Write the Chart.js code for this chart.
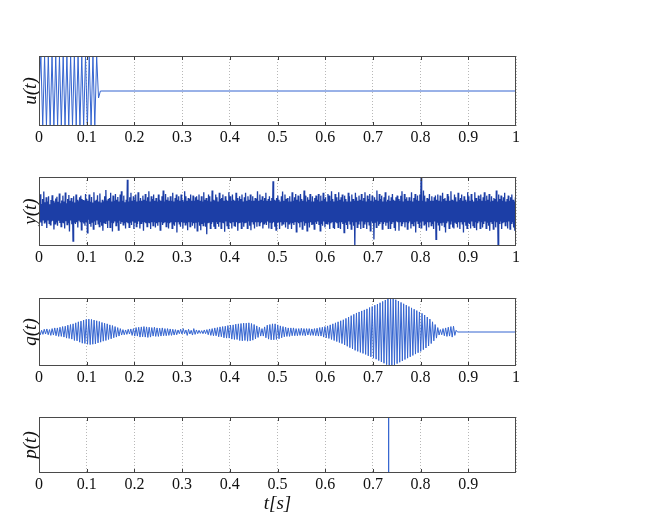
<!DOCTYPE html>
<html>
<head>
<meta charset="utf-8">
<script src="https://cdn.jsdelivr.net/npm/chart.js@4.4.0/dist/chart.umd.min.js"></script>
<style>
  html, body { margin: 0; padding: 0; background: #fff; }
  body { width: 654px; height: 524px; position: relative; overflow: hidden; }
  canvas { position: absolute; left: 0; }
</style>
</head>
<body>
<canvas id="uChart"></canvas>
<canvas id="yChart"></canvas>
<canvas id="qChart"></canvas>
<canvas id="pChart"></canvas>
<script>
// tick positions shared by all four panels
const tickValues = [0, 0.1, 0.2, 0.3, 0.4, 0.5, 0.6, 0.7, 0.8, 0.9, 1];

// u(t): short burst of full-scale oscillation, then flat
const uStep = 0.0039;
const uValues = [0, 1, -1, 1, -1, 1, -1, 1, -1, 1, -1, 1, -1, 1, -1, 1, -1,
  1, -1, 1, -1, 1, -1, 1, -1, 1, -1, 1, -1, 1, -1, 1, -0.2, 0];

// y(t): noisy measurement, samples spread evenly over 0..1
const yValues = [
  .3,-.28,.5,-.32,.22,-.42,.36,-.24,.58,-.33,.27,-.31,.41,-.48,.29,-.26,.44,-.34,.21,-.39,
  .33,-.29,.47,-.27,.31,-.52,.26,-.36,.38,-.3,.43,-.41,.28,-.27,.52,-.33,.24,-.44,.32,-.31,
  .46,-.34,.29,-.49,.55,-.28,.24,-.38,.36,-.32,.48,-.58,.31,-.26,.39,-.37,.29,-.86,.44,-.31,
  .26,-.36,.49,-.31,.34,-.46,.3,-.27,.41,-.29,.46,-.53,.36,-.31,.33,-.35,.31,-.41,.51,-.29,
  .36,-.62,.31,-.24,.49,-.36,.28,-.44,.42,-.31,.26,-.51,.56,-.29,.31,-.39,.34,-.26,.47,-.36,
  .29,-.44,.52,-.31,.26,-.41,.34,-.56,.3,-.32,.44,-.34,.62,-.29,.32,-.48,.36,-.27,.39,-.46,
  .54,-.31,.29,-.58,.46,-.34,.31,-.29,.51,-.41,.34,-.31,.42,-.54,.29,-.27,.49,-.36,.59,-.31,
  .31,-.39,.46,-.32,.27,-.49,.34,-.31,.92,-.34,.29,-.46,.41,-.31,.54,-.39,.31,-.29,.44,-.51,
  .34,-.31,.49,-.44,.29,-.36,.56,-.29,.31,-.49,.39,-.34,.31,-.29,.46,-.56,.34,-.31,.51,-.34,
  .31,-.44,.41,-.31,.59,-.34,.29,-.51,.44,-.31,.36,-.41,.49,-.29,.31,-.46,.39,-.34,.29,-.41,
  .49,-.31,.34,-.54,.31,-.29,.44,-.39,.61,-.34,.29,-.31,.51,-.44,.34,-.31,.41,-.49,.31,-.34,
  .44,-.31,.31,-.49,.54,-.36,.29,-.41,.39,-.31,.49,-.61,.34,-.29,.44,-.36,.31,-.44,.49,-.31,
  .34,-.49,.29,-.31,.59,-.39,.44,-.34,.31,-.54,.39,-.31,.36,-.44,.49,-.29,.31,-.41,.46,-.34,
  .31,-.49,.41,-.31,.44,-.56,.34,-.29,.49,-.41,.31,-.54,.44,-.36,.29,-.41,.56,-.31,.34,-.44,
  .39,-.66,.31,-.34,.49,-.31,.44,-.49,.29,-.36,.61,-.31,.34,-.44,.31,-.49,.49,-.29,.41,-.36,
  .29,-.44,.54,-.31,.36,-.49,.39,-.31,.49,-.34,.31,-.59,.44,-.29,.34,-.41,.31,-.49,.56,-.31,
  .44,-.34,.31,-.49,.49,-.29,.34,-.41,.31,-.44,.54,-.31,.39,-.56,.31,-.34,.44,-.31,.36,-.49,
  .49,-.31,.29,-.44,.41,-.34,.54,-.31,.31,-.49,.44,-.29,.34,-.41,.49,-.54,.31,-.29,.44,-.36,
  .31,-.49,.39,-.31,.36,-.44,.59,-.29,.31,-.41,.49,-.34,.34,-.31,.44,-.49,.31,-.36,.39,-.31,
  .54,-.39,.31,-.29,.36,-.49,.44,-.31,.31,-.49,.39,-.34,.88,-.31,.34,-.44,.31,-.54,.39,-.31,
  .46,-.29,.34,-.51,.29,-.31,.44,-.41,.58,-.36,.31,-.29,.49,-.46,.36,-.31,.39,-.51,.29,-.36,
  .44,-.31,.29,-.51,.56,-.34,.31,-.39,.41,-.29,.51,-.59,.34,-.31,.46,-.34,.29,-.46,.51,-.29,
  .36,-.51,.31,-.29,.61,-.41,.46,-.34,.29,-.56,.41,-.31,.34,-.46,.51,-.31,.29,-.39,.44,-.36,
  .29,-.51,.39,-.31,.46,-.36,.34,-.29,.51,-.39,.29,-.56,.46,-.34,.31,-.41,.54,-.29,.36,-.46,
  .41,-.34,.29,-.36,.51,-.31,.46,-.51,.31,-.34,.59,-.29,.36,-.46,.29,-.51,.51,-.31,.41,-.34,
  .31,-.46,.56,-.29,.34,-.51,.41,-.31,.49,-.36,.29,-.61,.46,-.31,.36,-.39,.29,-.51,.54,-.29,
  .44,-.36,.29,-.51,.49,-.31,.36,-.41,.31,-1.0,.54,-.29,.41,-.46,.31,-.36,.46,-.29,.34,-.51,
  .51,-.29,.31,-.46,.39,-.36,.56,-.31,.29,-.51,.46,-.31,.36,-.39,.51,-.56,.31,-.29,.46,-.34,
  .29,-.81,.41,-.31,.34,-.46,.61,-.29,.31,-.41,.51,-.36,.36,-.29,.46,-.51,.29,-.36,.41,-.31,
  .56,-.41,.29,-.31,.34,-.49,.46,-.29,.31,-.51,.41,-.36,.51,-.29,.34,-.46,.31,-.56,.41,-.29,
  .46,-.31,.36,-.56,.31,-.29,.46,-.41,.59,-.36,.29,-.31,.51,-.46,.36,-.29,.41,-.51,.31,-.34,
  .41,-.29,.31,-.49,.56,-.34,.29,-.41,.39,-.31,.51,-.61,.34,-.29,.46,-.34,.31,-.46,.49,-.31,
  1.0,-.49,.31,-.29,.61,-.39,.46,-.34,.29,-.56,.39,-.31,.36,-.46,.51,-.29,.31,-.41,.44,-.36,
  .31,-.51,.41,-.29,.46,-.81,.34,-.31,.49,-.39,.31,-.56,.46,-.34,.29,-.41,.54,-.31,.36,-.44,
  .39,-.61,.31,-.34,.51,-.29,.44,-.49,.31,-.36,.59,-.29,.34,-.46,.31,-.49,.49,-.31,.41,-.34,
  .29,-.46,.54,-.31,.34,-.51,.39,-.29,.49,-.36,.31,-.61,.44,-.31,.34,-.41,.29,-.49,.56,-.31,
  .44,-.36,.31,-.49,.51,-.29,.34,-.41,.29,-.46,.56,-.31,.39,-.54,.31,-.34,.46,-.29,.36,-.49,
  .49,-.29,.31,-.46,.41,-.36,.56,-.29,.31,-.49,.46,-.31,.34,-.41,.51,-.56,.29,-.31,.44,-.34,
  .31,-.51,.39,-.29,.36,-.46,.61,-.31,.29,-1.0,.49,-.34,.36,-.29,.46,-.51,.31,-.34,.41,-.29,
  .54,-.41,.29,-.31,.36,-.49,.46,-.29,.31,-.51,.41,-.34,.49,-.31,.34,-.46,.29,-.56,.41,-.31
];

// q(t): successive peaks of the modulated oscillation, then flat
const qStep = 0.00275;
const qValues = [
  .06,-.08,.05,-.07,.08,-.06,.09,-.08,.07,-.1,.1,-.09,.12,-.11,.12,-.13,.14,-.13,.16,-.15,
  .17,-.18,.2,-.19,.22,-.21,.24,-.25,.27,-.26,.3,-.3,.32,-.33,.35,-.34,.37,-.36,.38,-.37,
  .37,-.36,.35,-.35,.33,-.32,.31,-.3,.28,-.27,.26,-.25,.24,-.22,.21,-.2,.19,-.17,.16,-.15,
  .13,-.12,.1,-.09,.07,-.08,.06,-.07,.08,-.06,.09,-.1,.1,-.12,.13,-.12,.14,-.15,.15,-.14,
  .16,-.15,.15,-.16,.14,-.15,.13,-.12,.14,-.13,.12,-.13,.11,-.12,.12,-.11,.1,-.11,.1,-.1,
  .09,-.1,.08,-.09,.07,-.08,.06,-.05,.08,-.06,.1,-.05,.06,-.1,.08,-.06,.05,-.09,.1,-.07,
  .06,-.05,.05,-.04,.04,-.05,.06,-.05,.07,-.08,.09,-.1,.1,-.11,.12,-.11,.13,-.14,.15,-.14,
  .16,-.17,.17,-.18,.19,-.18,.2,-.21,.21,-.22,.23,-.22,.24,-.25,.25,-.26,.26,-.25,.26,-.27,
  .27,-.26,.25,-.24,.22,-.2,.18,-.16,.14,-.12,.1,-.12,.15,-.17,.2,-.21,.22,-.23,.24,-.23,
  .24,-.22,.21,-.2,.18,-.17,.16,-.14,.14,-.13,.12,-.13,.12,-.11,.12,-.11,.1,-.11,.1,-.1,
  .11,-.1,.1,-.11,.1,-.09,.1,-.1,.09,-.1,.1,-.11,.11,-.12,.13,-.12,.14,-.15,.16,-.17,
  .18,-.19,.21,-.22,.24,-.25,.27,-.28,.3,-.31,.33,-.34,.36,-.38,.4,-.42,.44,-.46,.48,-.5,
  .52,-.54,.56,-.57,.59,-.6,.62,-.63,.65,-.66,.68,-.7,.72,-.73,.75,-.77,.79,-.8,.82,-.84,
  .86,-.88,.9,-.92,.94,-.96,.97,-.99,1.0,-.99,.98,-.97,.95,-.93,.91,-.89,.87,-.85,.83,-.81,
  .79,-.77,.75,-.73,.71,-.69,.67,-.65,.63,-.61,.59,-.57,.55,-.52,.5,-.47,.44,-.41,.38,-.34,
  .3,-.26,.22,-.18,.13,-.09,.07,-.08,.1,-.11,.12,-.13,.14,-.12,.16,-.15,.17,-.1,.05,0
];

// p(t): a single impulse
const pTimes = [0, 0.733, 0.733, 0.733, 1];
const pValues = [0, 0, 1, 0, 0];

const serif = '"Liberation Serif", "DejaVu Serif", serif';
const PAD_TOP = 6;
const AREA_LEFT = 39;
const AREA_RIGHT = 516;

// box around the plot plus little inward tick marks top and bottom
const framePlugin = {
  id: 'frame',
  afterDatasetsDraw(chart) {
    const { ctx, chartArea: a, scales: { x } } = chart;
    ctx.save();
    ctx.strokeStyle = '#3c3c3c';
    ctx.lineWidth = 1;
    ctx.beginPath();
    tickValues.slice(1, -1).forEach(v => {
      const px = Math.round(x.getPixelForValue(v)) + 0.5;
      ctx.moveTo(px, a.top);
      ctx.lineTo(px, a.top + 4);
      ctx.moveTo(px, a.bottom);
      ctx.lineTo(px, a.bottom - 4);
    });
    ctx.stroke();
    ctx.strokeStyle = '#4a4a4a';
    ctx.strokeRect(a.left + 0.5, a.top + 0.5, a.right - a.left - 1, a.bottom - a.top - 1);
    ctx.restore();
  }
};

function makePanel(id, opts) {
  const canvas = document.getElementById(id);
  const h = PAD_TOP + opts.areaH + opts.axisH;
  canvas.width = 654;
  canvas.height = h;
  canvas.style.width = '654px';
  canvas.style.height = h + 'px';
  canvas.style.top = (opts.areaTop - PAD_TOP) + 'px';

  return new Chart(canvas, {
    type: 'line',
    data: {
      datasets: [{
        data: opts.points,
        borderColor: opts.color,
        borderWidth: opts.lineWidth || 1,
        pointRadius: 0,
        tension: 0,
        fill: false
      }]
    },
    options: {
      responsive: false,
      animation: false,
      events: [],
      layout: { padding: { left: 0, right: 654 - AREA_RIGHT, top: PAD_TOP, bottom: 0 } },
      plugins: { legend: { display: false }, tooltip: { enabled: false } },
      scales: {
        x: {
          type: 'linear',
          min: 0,
          max: 1,
          afterBuildTicks: s => { s.ticks = tickValues.map(v => ({ value: v })); },
          afterFit: s => { s.height = opts.axisH; },
          ticks: {
            autoSkip: false,
            maxRotation: 0,
            padding: 2,
            color: '#111',
            font: { family: serif, size: 16 },
            callback: v => {
              if (opts.hideLast && v === 1) return '';
              return v === 0 || v === 1 ? String(v) : v.toFixed(1);
            }
          },
          grid: { color: '#b8b8b8', lineWidth: 1, drawTicks: false },
          border: { display: false, dash: [1, 2] },
          title: {
            display: !!opts.xTitle,
            text: opts.xTitle || '',
            color: '#111',
            font: { family: serif, size: 19, style: 'italic' },
            padding: { top: 0, bottom: 2 }
          }
        },
        y: {
          min: opts.yMin,
          max: opts.yMax,
          afterFit: s => { s.width = AREA_LEFT; },
          ticks: { display: false },
          grid: { display: false },
          border: { display: false },
          title: {
            display: true,
            text: opts.yTitle,
            color: '#111',
            font: { family: serif, size: 19, style: 'italic' },
            padding: { top: 20, bottom: 0 }
          }
        }
      }
    },
    plugins: [framePlugin]
  });
}

const uPoints = uValues.map((v, i) => ({ x: i * uStep, y: v }));
uPoints.push({ x: 1, y: 0 });

const yPoints = yValues.map((v, i) => ({ x: i / (yValues.length - 1), y: v }));

const qPoints = qValues.map((v, i) => ({ x: i * qStep, y: v }));
qPoints.push({ x: 1, y: 0 });

const pPoints = pTimes.map((t, i) => ({ x: t, y: pValues[i] }));

makePanel('uChart', { areaTop: 56, areaH: 70, axisH: 24, points: uPoints, color: '#3565d0', yMin: -1, yMax: 1, yTitle: 'u(t)' });
makePanel('yChart', { areaTop: 177, areaH: 69, axisH: 24, points: yPoints, color: '#1c3ea6', lineWidth: 1.3, yMin: -1, yMax: 1, yTitle: 'y(t)' });
makePanel('qChart', { areaTop: 298, areaH: 68, axisH: 24, points: qPoints, color: '#3565d0', yMin: -1, yMax: 1, yTitle: 'q(t)' });
makePanel('pChart', { areaTop: 417, areaH: 56, axisH: 44, points: pPoints, color: '#3565d0', yMin: 0, yMax: 1, yTitle: 'p(t)', xTitle: 't[s]', hideLast: true });
</script>
</body>
</html>
